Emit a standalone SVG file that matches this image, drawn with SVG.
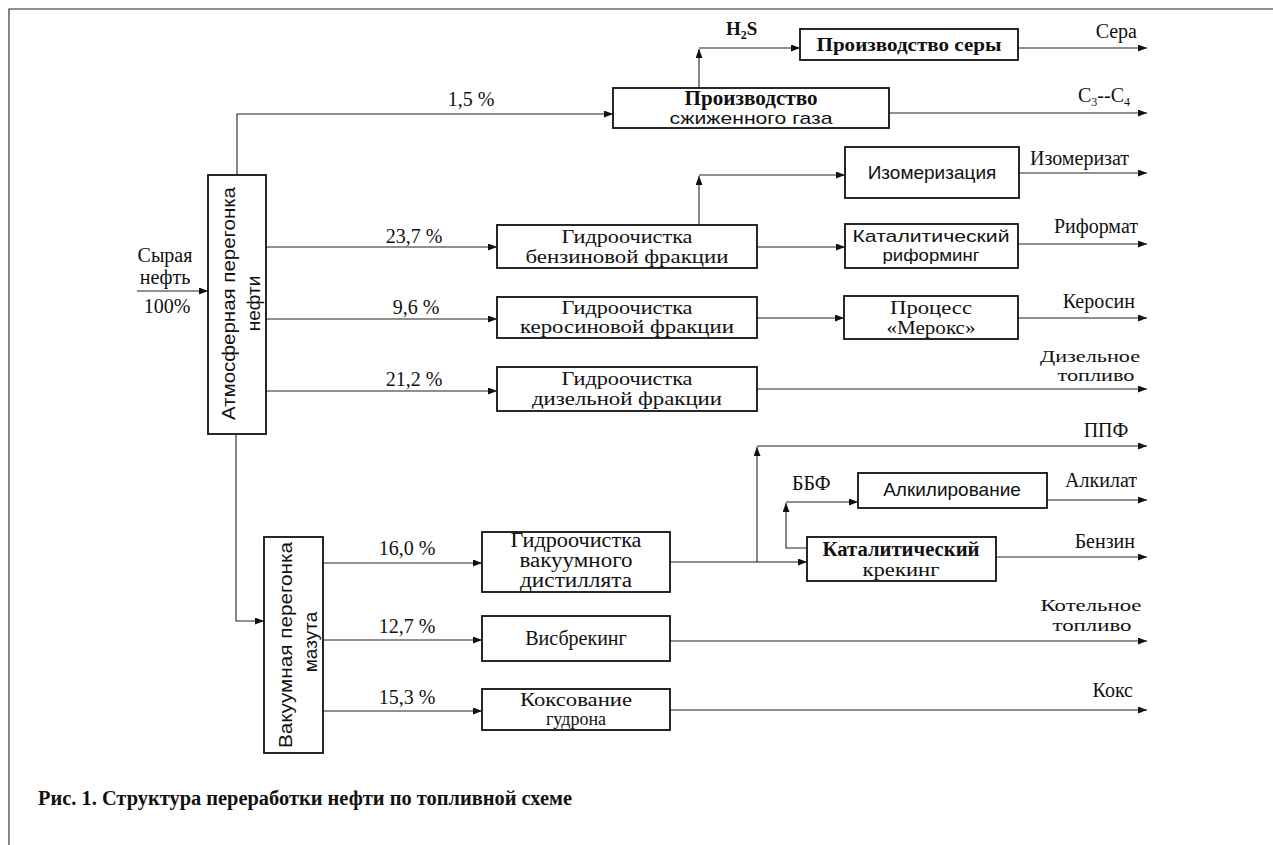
<svg xmlns="http://www.w3.org/2000/svg" width="1273" height="845" viewBox="0 0 1273 845">
<defs>
<marker id="ah" markerUnits="userSpaceOnUse" markerWidth="10" markerHeight="8" refX="9" refY="3.5" orient="auto">
<path d="M0,0 L9,3.5 L0,7 z" fill="#111"/>
</marker>
<style>
.box{fill:#fff;stroke:#111;stroke-width:1.8}
.ln{fill:none;stroke:#222;stroke-width:1.1}
.ar{fill:none;stroke:#222;stroke-width:1.1;marker-end:url(#ah)}
text{font-family:"Liberation Serif","DejaVu Serif",serif;font-size:20px;fill:#111}
.s{font-family:"Liberation Sans","DejaVu Sans",sans-serif;font-size:19px}
.t{font-size:18px}
.ts{font-family:"Liberation Sans","DejaVu Sans",sans-serif;font-size:17px}
.b{font-weight:bold;font-size:19px}
.c{text-anchor:middle}
.p{font-size:20px;text-anchor:middle}
.e{text-anchor:end}
.o2{font-size:17px;text-anchor:middle}
</style>
</defs>
<rect width="1273" height="845" fill="#fff"/>
<g id="frame"><path class="ln" d="M9,845 V9 H1273" stroke-width="1.3"/></g>

<g id="connectors">
<path class="ar" d="M137,291 H208"/>
<path class="ar" d="M237,175 V114 H613"/>
<path class="ar" d="M699,88 V49"/>
<path class="ar" d="M699,48 H800"/>
<path class="ar" d="M1018,48 H1147"/>
<path class="ar" d="M889,113 H1147"/>
<path class="ar" d="M699,225 V176"/>
<path class="ar" d="M699,175 H845"/>
<path class="ar" d="M1019,173 H1147"/>
<path class="ar" d="M266,247 H497"/>
<path class="ar" d="M757,247 H845"/>
<path class="ar" d="M1018,244 H1147"/>
<path class="ar" d="M266,319 H497"/>
<path class="ar" d="M757,318 H844"/>
<path class="ar" d="M1018,318 H1147"/>
<path class="ar" d="M266,391 H497"/>
<path class="ar" d="M757,389 H1147"/>
<path class="ar" d="M236,434 V621 H264"/>
<path class="ar" d="M323,563 H482"/>
<path class="ar" d="M323,640 H482"/>
<path class="ar" d="M323,711 H482"/>
<path class="ar" d="M670,562 H807"/>
<path class="ar" d="M757,562 V447"/>
<path class="ar" d="M757,446 H1147"/>
<path class="ar" d="M807,548 H786 V503"/>
<path class="ar" d="M786,502 H858"/>
<path class="ar" d="M1047,500 H1147"/>
<path class="ar" d="M996,557 H1147"/>
<path class="ar" d="M670,641 H1147"/>
<path class="ar" d="M670,710 H1147"/>
</g>

<g id="labels">
<text class="c" x="165" y="262">Сырая</text>
<text class="c" x="165" y="284">нефть</text>
<text class="p" x="167" y="313">100%</text>
<text class="p" x="471" y="106">1,5 %</text>
<text class="p" x="414" y="243">23,7 %</text>
<text class="p" x="416" y="314">9,6 %</text>
<text class="p" x="414" y="386">21,2 %</text>
<text class="p" x="407" y="555">16,0 %</text>
<text class="p" x="407" y="633">12,7 %</text>
<text class="p" x="407" y="704">15,3 %</text>
<text class="b" x="726" y="35">H<tspan font-size="12" dy="4">2</tspan><tspan dy="-4">S</tspan></text>
<text class="e" x="1137" y="38">Сера</text>
<text x="1078" y="102">C<tspan font-size="12" dy="4">3</tspan><tspan dy="-4">--C</tspan><tspan font-size="12" dy="4">4</tspan></text>
<text x="1030" y="165">Изомеризат</text>
<text class="e" x="1138" y="233">Риформат</text>
<text class="e" x="1135" y="308">Керосин</text>
<text class="o2" x="1090" y="362" textLength="100" lengthAdjust="spacingAndGlyphs">Дизельное</text>
<text class="o2" x="1096" y="381" textLength="77" lengthAdjust="spacingAndGlyphs">топливо</text>
<text class="c" x="1106" y="437">ППФ</text>
<text x="792" y="490">ББФ</text>
<text class="e" x="1137" y="487">Алкилат</text>
<text class="e" x="1135" y="548">Бензин</text>
<text class="o2" x="1091" y="611" textLength="101" lengthAdjust="spacingAndGlyphs">Котельное</text>
<text class="o2" x="1092" y="631" textLength="79" lengthAdjust="spacingAndGlyphs">топливо</text>
<text class="e" x="1133" y="697">Кокс</text>
<text x="38" y="805" font-weight="bold" font-size="17" textLength="534" lengthAdjust="spacingAndGlyphs">Рис. 1. Структура переработки нефти по топливной схеме</text>
</g>

<g id="atm">
<rect class="box" x="208" y="175" width="58" height="259"/>
<text class="s c" font-size="20" transform="translate(235,303.5) rotate(-90)" textLength="233" lengthAdjust="spacingAndGlyphs">Атмосферная перегонка</text>
<text class="s c" font-size="20" transform="translate(260,303.5) rotate(-90)">нефти</text>
</g>
<g id="vac">
<rect class="box" x="264" y="537" width="59" height="216"/>
<text class="s c" font-size="20" transform="translate(292,645) rotate(-90)" textLength="206" lengthAdjust="spacingAndGlyphs">Вакуумная перегонка</text>
<text class="s c" font-size="20" transform="translate(317,642) rotate(-90)">мазута</text>
</g>
<g id="lpg">
<rect class="box" x="613" y="88" width="276" height="40"/>
<text class="c" x="751" y="105" font-weight="bold" font-size="17" textLength="133" lengthAdjust="spacingAndGlyphs">Производство</text>
<text class="ts c" x="751" y="124" textLength="163" lengthAdjust="spacingAndGlyphs">сжиженного газа</text>
</g>
<g id="sulfur">
<rect class="box" x="800" y="29" width="218" height="31"/>
<text class="b c" x="909" y="51" textLength="185" lengthAdjust="spacingAndGlyphs">Производство серы</text>
</g>
<g id="isom">
<rect class="box" x="845" y="147" width="174" height="51"/>
<text class="s c" x="932" y="179" font-size="20">Изомеризация</text>
</g>
<g id="benzht">
<rect class="box" x="497" y="225" width="260" height="43"/>
<text class="t c" x="627" y="243" textLength="131" lengthAdjust="spacingAndGlyphs">Гидроочистка</text>
<text class="t c" x="627" y="263" textLength="203" lengthAdjust="spacingAndGlyphs">бензиновой фракции</text>
</g>
<g id="reform">
<rect class="box" x="845" y="224" width="173" height="44"/>
<text class="ts c" x="931" y="242" textLength="157" lengthAdjust="spacingAndGlyphs">Каталитический</text>
<text class="ts c" x="931" y="261" textLength="97" lengthAdjust="spacingAndGlyphs">риформинг</text>
</g>
<g id="keroht">
<rect class="box" x="497" y="297" width="260" height="41"/>
<text class="t c" x="627" y="314" textLength="131" lengthAdjust="spacingAndGlyphs">Гидроочистка</text>
<text class="t c" x="627" y="333" textLength="214" lengthAdjust="spacingAndGlyphs">керосиновой фракции</text>
</g>
<g id="merox">
<rect class="box" x="844" y="296" width="174" height="43"/>
<text class="t c" x="931" y="314" textLength="82" lengthAdjust="spacingAndGlyphs">Процесс</text>
<text class="t c" x="931" y="334" textLength="89" lengthAdjust="spacingAndGlyphs">«Мерокс»</text>
</g>
<g id="dieselht">
<rect class="box" x="497" y="367" width="260" height="44"/>
<text class="t c" x="627" y="385" textLength="131" lengthAdjust="spacingAndGlyphs">Гидроочистка</text>
<text class="t c" x="627" y="405" textLength="190" lengthAdjust="spacingAndGlyphs">дизельной фракции</text>
</g>
<g id="vgoht">
<rect class="box" x="482" y="532" width="188" height="60"/>
<text class="c" font-size="16.5" x="576" y="547" textLength="131" lengthAdjust="spacingAndGlyphs">Гидроочистка</text>
<text class="c" font-size="16.5" x="576" y="567" textLength="113" lengthAdjust="spacingAndGlyphs">вакуумного</text>
<text class="c" font-size="16.5" x="576" y="587" textLength="112" lengthAdjust="spacingAndGlyphs">дистиллята</text>
</g>
<g id="visb">
<rect class="box" x="482" y="616" width="188" height="45"/>
<text class="c" x="576" y="645">Висбрекинг</text>
</g>
<g id="coking">
<rect class="box" x="482" y="689" width="188" height="41"/>
<text class="t c" x="576" y="706" textLength="112" lengthAdjust="spacingAndGlyphs">Коксование</text>
<text class="t c" x="576" y="725">гудрона</text>
</g>
<g id="catcrack">
<rect class="box" x="807" y="537" width="189" height="44"/>
<text class="c" x="901" y="556" font-weight="bold" font-size="18" textLength="157" lengthAdjust="spacingAndGlyphs">Каталитический</text>
<text class="t c" x="901" y="576" textLength="77" lengthAdjust="spacingAndGlyphs">крекинг</text>
</g>
<g id="alkyl">
<rect class="box" x="858" y="473" width="189" height="35"/>
<text class="s c" x="952" y="496" font-size="20">Алкилирование</text>
</g>
</svg>
